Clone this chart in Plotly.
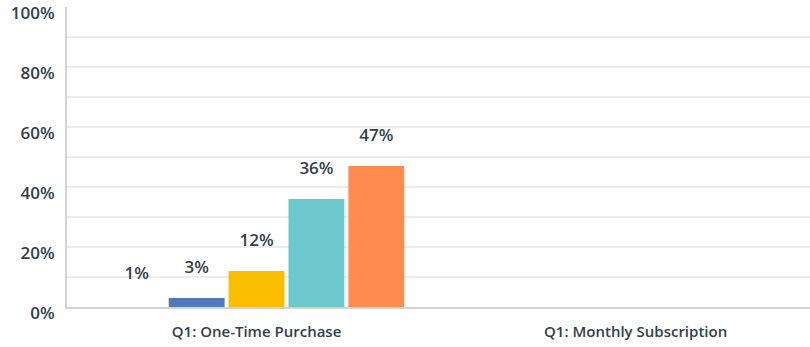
import plotly.graph_objects as go

categories = ["Q1: One-Time Purchase", "Q1: Monthly Subscription"]
series_names = ["Option 1", "Option 2", "Option 3", "Option 4", "Option 5"]
series_values = [
    [1, None],
    [3, None],
    [12, None],
    [36, None],
    [47, None],
]
series_colors = ["rgba(255,255,255,0)", "#4f7bb7", "#f9be00", "#6cc8cc", "#ff8b4f"]
y_tickvals = [0, 20, 40, 60, 80, 100]
y_ticktext = ["0%", "20%", "40%", "60%", "80%", "100%"]

FONT = "Open Sans"
TXT = "#333e48"

fig = go.Figure()
for i, (name, vals, col) in enumerate(zip(series_names, series_values, series_colors)):
    fig.add_trace(go.Bar(
        x=categories, y=vals, name=name, offsetgroup=str(i),
        marker=dict(color=col, line=dict(width=0)),
        hoverinfo="skip",
    ))
for i, (name, vals) in enumerate(zip(series_names, series_values)):
    fig.add_trace(go.Scatter(
        x=categories, y=vals, name=name + " label", offsetgroup=str(i),
        mode="markers+text",
        marker=dict(size=32, opacity=0),
        text=[("%d%%" % v) if v is not None else "" for v in vals],
        textposition="top center",
        textfont=dict(family=FONT, size=17, color=TXT, weight=600),
        cliponaxis=False, hoverinfo="skip",
    ))

fig.update_layout(
    width=810, height=347,
    margin=dict(l=67, r=0, t=7, b=40),
    paper_bgcolor="white", plot_bgcolor="white",
    barmode="group", bargap=0.21, bargroupgap=0.067,
    scattermode="group", scattergap=0.21,
    showlegend=False,
    xaxis=dict(
        type="category", range=[-0.5, 1.46],
        showgrid=False, showline=True, linecolor="#d3d3d3", linewidth=2,
        ticks="", tickfont=dict(family=FONT, size=15, color=TXT, weight=600),
        ticklabelstandoff=10, zeroline=False,
    ),
    yaxis=dict(
        range=[0, 100], tickvals=y_tickvals, ticktext=y_ticktext,
        showgrid=True, gridcolor="#ececec", gridwidth=1.5,
        minor=dict(dtick=10, showgrid=True, gridcolor="#ececec", gridwidth=1.5),
        showline=True, linecolor="#d3d3d3", linewidth=2,
        ticks="", tickfont=dict(family=FONT, size=17, color=TXT, weight=600),
        ticklabelshift=6, ticklabelstandoff=7, zeroline=False,
    ),
)

fig.write_html("out.html")
